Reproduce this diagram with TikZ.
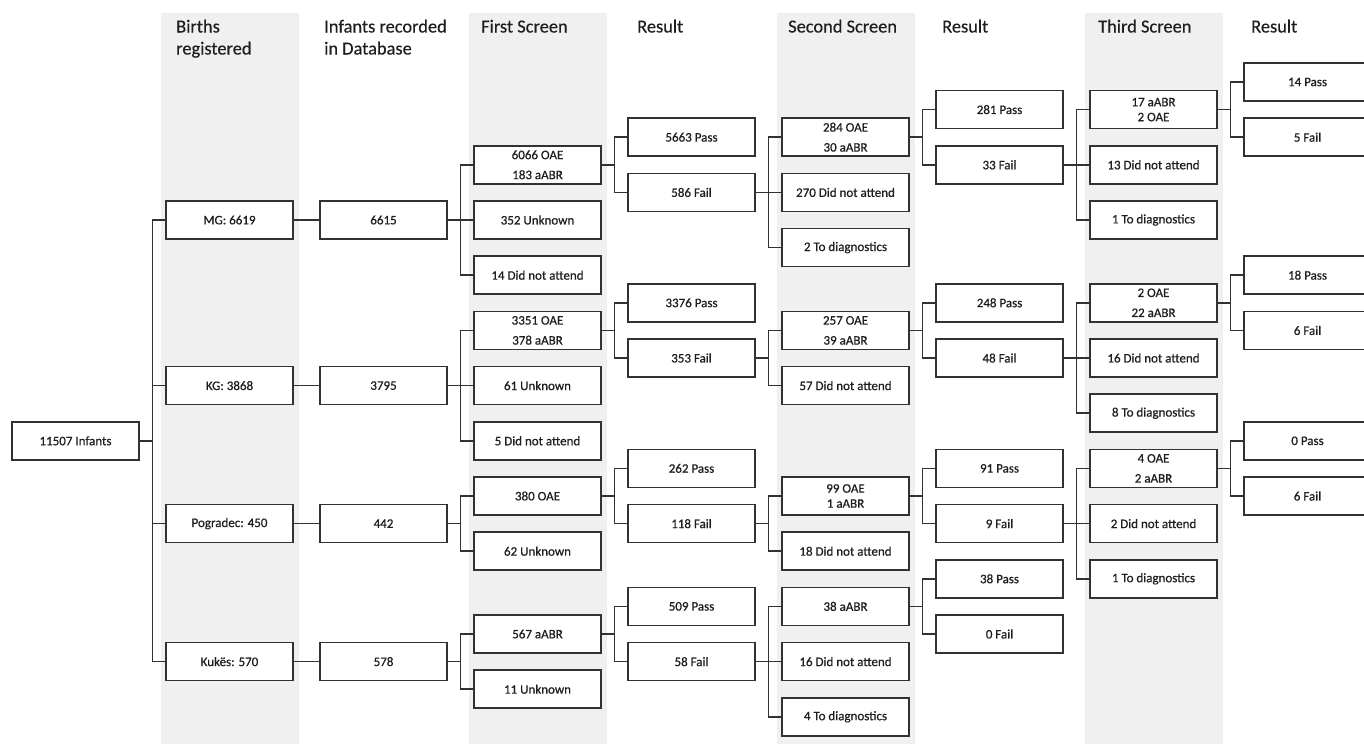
\documentclass[tikz,border=0pt]{standalone}
\usepackage{fontspec}
\setmainfont{Carlito}
\newfontfamily\boxfont{Carlito}[FakeBold=0.6]
\newfontfamily\hdrfont{Carlito}[FakeBold=0.3]
\definecolor{bandgray}{RGB}{240,240,240}
\definecolor{linegray}{RGB}{50,50,50}
\definecolor{txtgray}{RGB}{30,30,30}
\tikzset{
  box/.style={draw=linegray, line width=1.6pt, fill=white, minimum width=127.5pt, minimum height=38pt,
    inner sep=0pt, align=center, text=txtgray, font=\boxfont\fontsize{13}{20}\selectfont},
  tight/.style={font=\boxfont\fontsize{13}{15}\selectfont},
  conn/.style={draw=linegray, line width=1.6pt},
  hdr/.style={anchor=base west, inner sep=0pt, text=txtgray, font=\hdrfont\fontsize{18.4}{22}\selectfont},
  band/.style={fill=bandgray, draw=none}
}
\newcommand{\bx}[5][]{\node[box,#1] (#2) at ({154*#3+75.5},{82+27.6*#4}) {#5};}
\newcommand{\branch}[2]{\foreach \c in {#2} {\draw[conn] (#1.east) -- ++(12.5,0) |- (\c.west);}}
\begin{document}
\begin{tikzpicture}[x=1pt,y=-1pt]
\useasboundingbox (0,0) rectangle (1364,744);
\clip (0,0) rectangle (1364,744);
% column bands
\foreach \i in {1,3,5,7} {\fill[band] ({154*\i+11-4},13) rectangle ({154*\i+11+134},744);}
% headers
\node[hdr] (h1a) at (176,32.5) {Births};
\node[hdr] (h1b) at (176,54.5) {registered};
\node[hdr] (h2a) at (324,32.5) {Infants recorded};
\node[hdr] (h2b) at (324,54.5) {in Database};
\node[hdr] (h3) at (481,32.5) {First Screen};
\node[hdr] (h4) at (637,32.5) {Result};
\node[hdr] (h5) at (788,32.5) {Second Screen};
\node[hdr] (h6) at (942,32.5) {Result};
\node[hdr] (h7) at (1098,32.5) {Third Screen};
\node[hdr] (h8) at (1251,32.5) {Result};
% boxes
\bx{root}{0}{13}{11507 Infants}
\bx{mg}{1}{5}{MG: 6619}
\bx{kg}{1}{11}{KG: 3868}
\bx{pog}{1}{16}{Pogradec: 450}
\bx{kuk}{1}{21}{Kukës: 570}
\bx{mgd}{2}{5}{6615}
\bx{kgd}{2}{11}{3795}
\bx{pogd}{2}{16}{442}
\bx{kukd}{2}{21}{578}
\bx{mgs1}{3}{3}{6066 OAE\\183 aABR}
\bx{mgu}{3}{5}{352 Unknown}
\bx{mgn}{3}{7}{14 Did not attend}
\bx{kgs1}{3}{9}{3351 OAE\\378 aABR}
\bx{kgu}{3}{11}{61 Unknown}
\bx{kgn}{3}{13}{5 Did not attend}
\bx{pogs1}{3}{15}{380 OAE}
\bx{pogu}{3}{17}{62 Unknown}
\bx{kuks1}{3}{20}{567 aABR}
\bx{kuku}{3}{22}{11 Unknown}
\bx{mgp1}{4}{2}{5663 Pass}
\bx{mgf1}{4}{4}{586 Fail}
\bx{kgp1}{4}{8}{3376 Pass}
\bx{kgf1}{4}{10}{353 Fail}
\bx{pogp1}{4}{14}{262 Pass}
\bx{pogf1}{4}{16}{118 Fail}
\bx{kukp1}{4}{19}{509 Pass}
\bx{kukf1}{4}{21}{58 Fail}
\bx{mgs2}{5}{2}{284 OAE\\30 aABR}
\bx{mgn2}{5}{4}{270 Did not attend}
\bx{mgd2}{5}{6}{2 To diagnostics}
\bx{kgs2}{5}{9}{257 OAE\\39 aABR}
\bx{kgn2}{5}{11}{57 Did not attend}
\bx[tight]{pogs2}{5}{15}{99 OAE\\1 aABR}
\bx{pogn2}{5}{17}{18 Did not attend}
\bx{kuks2}{5}{19}{38 aABR}
\bx{kukn2}{5}{21}{16 Did not attend}
\bx{kukd2}{5}{23}{4 To diagnostics}
\bx{mgp2}{6}{1}{281 Pass}
\bx{mgf2}{6}{3}{33 Fail}
\bx{kgp2}{6}{8}{248 Pass}
\bx{kgf2}{6}{10}{48 Fail}
\bx{pogp2}{6}{14}{91 Pass}
\bx{pogf2}{6}{16}{9 Fail}
\bx{kukp2}{6}{18}{38 Pass}
\bx{kukf2}{6}{20}{0 Fail}
\bx[tight]{mgs3}{7}{1}{17 aABR\\2 OAE}
\bx{mgn3}{7}{3}{13 Did not attend}
\bx{mgd3}{7}{5}{1 To diagnostics}
\bx{kgs3}{7}{8}{2 OAE\\22 aABR}
\bx{kgn3}{7}{10}{16 Did not attend}
\bx{kgd3}{7}{12}{8 To diagnostics}
\bx{pogs3}{7}{14}{4 OAE\\2 aABR}
\bx{pogn3}{7}{16}{2 Did not attend}
\bx{pogd3}{7}{18}{1 To diagnostics}
\bx{mgp3}{8}{0}{14 Pass}
\bx{mgf3}{8}{2}{5 Fail}
\bx{kgp3}{8}{7}{18 Pass}
\bx{kgf3}{8}{9}{6 Fail}
\bx{pogp3}{8}{13}{0 Pass}
\bx{pogf3}{8}{15}{6 Fail}
% connectors
\branch{root}{mg,kg,pog,kuk}
\branch{mg}{mgd}
\branch{kg}{kgd}
\branch{pog}{pogd}
\branch{kuk}{kukd}
\branch{mgd}{mgs1,mgu,mgn}
\branch{kgd}{kgs1,kgu,kgn}
\branch{pogd}{pogs1,pogu}
\branch{kukd}{kuks1,kuku}
\branch{mgs1}{mgp1,mgf1}
\branch{kgs1}{kgp1,kgf1}
\branch{pogs1}{pogp1,pogf1}
\branch{kuks1}{kukp1,kukf1}
\branch{mgf1}{mgs2,mgn2,mgd2}
\branch{kgf1}{kgs2,kgn2}
\branch{pogf1}{pogs2,pogn2}
\branch{kukf1}{kuks2,kukn2,kukd2}
\branch{mgs2}{mgp2,mgf2}
\branch{kgs2}{kgp2,kgf2}
\branch{pogs2}{pogp2,pogf2}
\branch{kuks2}{kukp2,kukf2}
\branch{mgf2}{mgs3,mgn3,mgd3}
\branch{kgf2}{kgs3,kgn3,kgd3}
\branch{pogf2}{pogs3,pogn3,pogd3}
\branch{mgs3}{mgp3,mgf3}
\branch{kgs3}{kgp3,kgf3}
\branch{pogs3}{pogp3,pogf3}
\end{tikzpicture}
\end{document}
